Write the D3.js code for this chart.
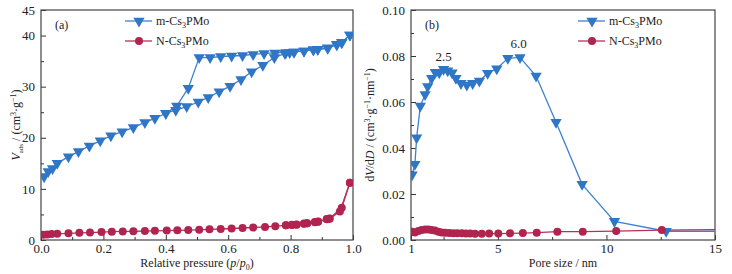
<!DOCTYPE html>
<html>
<head>
<meta charset="utf-8">
<script src="https://cdn.jsdelivr.net/npm/d3@7"></script>
<style>
  body { margin: 0; background: #fff; }
  svg, svg text { font-family: "Liberation Serif", "Times New Roman", Times, "DejaVu Serif", serif; }
</style>
</head>
<body>
<div id="chart"></div>
<script>
const width = 732, height = 274;

// (a) isotherms
const mAdsP = [0.01, 0.023, 0.037, 0.052, 0.088, 0.12, 0.155, 0.19, 0.224, 0.26, 0.296, 0.333, 0.365, 0.40, 0.432, 0.467, 0.504, 0.536, 0.571, 0.606, 0.641, 0.675, 0.711, 0.748, 0.782, 0.797, 0.811, 0.843, 0.873, 0.887, 0.919, 0.948, 0.964, 0.99];
const mAdsV = [12.4, 13.4, 14.0, 15.0, 16.3, 17.3, 18.4, 19.4, 20.4, 21.2, 22.0, 23.0, 23.8, 24.8, 25.4, 26.1, 27.0, 27.9, 29.0, 30.1, 31.4, 32.9, 34.2, 35.7, 36.5, 36.7, 36.8, 37.0, 37.2, 37.3, 37.5, 38.2, 38.6, 40.1];
const mDesP = [0.99, 0.964, 0.948, 0.919, 0.887, 0.873, 0.843, 0.811, 0.785, 0.75, 0.715, 0.68, 0.646, 0.611, 0.576, 0.542, 0.507, 0.472, 0.435, 0.40];
const mDesV = [40.1, 38.7, 38.3, 37.6, 37.3, 37.2, 37.0, 36.8, 36.7, 36.6, 36.5, 36.3, 36.1, 36.0, 35.9, 35.7, 35.7, 29.7, 26.2, 24.8];
const nAdsP = [0.007, 0.02, 0.034, 0.052, 0.088, 0.123, 0.157, 0.194, 0.227, 0.262, 0.296, 0.333, 0.365, 0.403, 0.437, 0.472, 0.507, 0.54, 0.576, 0.611, 0.646, 0.68, 0.718, 0.751, 0.785, 0.804, 0.819, 0.843, 0.853, 0.878, 0.888, 0.916, 0.925, 0.958, 0.99];
const nAdsV = [1.04, 1.1, 1.17, 1.2, 1.3, 1.4, 1.45, 1.55, 1.63, 1.67, 1.7, 1.76, 1.8, 1.85, 1.9, 1.95, 2.0, 2.08, 2.15, 2.25, 2.35, 2.45, 2.54, 2.7, 2.87, 2.95, 3.0, 3.2, 3.3, 3.46, 3.55, 4.05, 4.15, 5.6, 11.2];
const nDesP = [0.99, 0.964, 0.925, 0.916, 0.888, 0.878, 0.853, 0.843, 0.819, 0.804, 0.785];
const nDesV = [11.2, 6.3, 4.2, 4.1, 3.6, 3.5, 3.3, 3.25, 3.05, 3.0, 2.9];

// (b) pore size distribution
const mD = [1.05, 1.18, 1.26, 1.43, 1.65, 1.77, 1.95, 2.12, 2.3, 2.5, 2.69, 2.89, 3.07, 3.3, 3.57, 3.84, 4.15, 4.53, 4.95, 5.46, 6.02, 6.76, 7.68, 8.88, 10.37, 12.75, 17];
const mDV = [0.0284, 0.0329, 0.0445, 0.0583, 0.0633, 0.0667, 0.0703, 0.0729, 0.0727, 0.0742, 0.0736, 0.0727, 0.0703, 0.0681, 0.0674, 0.0681, 0.0691, 0.0725, 0.0745, 0.079, 0.0794, 0.0713, 0.0512, 0.0242, 0.0081, 0.0038, 0.0038];
const nD = [1.06, 1.18, 1.34, 1.49, 1.65, 1.8, 1.95, 2.1, 2.26, 2.41, 2.57, 2.76, 2.95, 3.13, 3.34, 3.53, 3.72, 3.95, 4.26, 4.6, 5.02, 5.56, 6.15, 6.79, 7.74, 8.91, 10.45, 12.55, 17];
const nDV = [0.0036, 0.0033, 0.0039, 0.0043, 0.0046, 0.0046, 0.0043, 0.0041, 0.0036, 0.0033, 0.0032, 0.0030, 0.0029, 0.0029, 0.0029, 0.0028, 0.0028, 0.0027, 0.0027, 0.0028, 0.0028, 0.0029, 0.0030, 0.0032, 0.0036, 0.0036, 0.0039, 0.0043, 0.0047];

const serif = "'Liberation Serif', 'Times New Roman', Times, 'DejaVu Serif', serif";
const blue = "#3d82cf", blueMark = "#2f76c6";
const red = "#b8305a", redMark = "#b0244f";

const svg = d3.select("#chart").append("svg")
  .attr("width", width).attr("height", height)
  .attr("font-family", serif);

const zip = (xs, ys) => xs.map((x, i) => ({ x: x, y: ys[i] }));
const tri = d3.symbol().type(d3.symbolTriangle).size(55);

function panel(opts) {
  const x = d3.scaleLinear().domain(opts.xDomain).range([opts.left, opts.right]);
  const y = d3.scaleLinear().domain(opts.yDomain).range([240, 10]);
  const g = svg.append("g");

  const clipId = "clip" + opts.name;
  svg.append("clipPath").attr("id", clipId)
    .append("rect").attr("x", opts.left).attr("y", 10)
    .attr("width", opts.right - opts.left).attr("height", 230);

  // minor ticks
  g.append("g").attr("transform", "translate(0,240)")
    .call(d3.axisBottom(x).tickValues(opts.xMinor).tickSize(-3).tickFormat(""));
  g.append("g").attr("transform", `translate(${opts.left},0)`)
    .call(d3.axisLeft(y).tickValues(opts.yMinor).tickSize(-3).tickFormat(""));
  // major ticks
  g.append("g").attr("transform", "translate(0,240)")
    .call(d3.axisBottom(x).tickValues(opts.xTicks).tickSize(-5).tickPadding(4).tickFormat(opts.xFmt));
  g.append("g").attr("transform", `translate(${opts.left},0)`)
    .call(d3.axisLeft(y).tickValues(opts.yTicks).tickSize(-5).tickPadding(6).tickFormat(opts.yFmt));
  g.selectAll(".domain").remove();
  g.selectAll("g").attr("font-family", serif);
  g.selectAll(".tick line").attr("stroke", "#333");
  g.selectAll(".tick text").attr("font-size", 13).attr("fill", "#222")
    .style("font-family", serif);

  g.append("rect").attr("x", opts.left).attr("y", 10)
    .attr("width", opts.right - opts.left).attr("height", 230)
    .attr("fill", "none").attr("stroke", "#444").attr("stroke-width", 1.2);

  const line = d3.line().x(d => x(d.x)).y(d => y(d.y));
  const plot = g.append("g").attr("clip-path", `url(#${clipId})`);

  opts.series.forEach(s => {
    plot.append("path").datum(s.data).attr("d", line)
      .attr("fill", "none").attr("stroke", s.color).attr("stroke-width", 1.3);
  });
  opts.series.forEach(s => {
    const pts = plot.append("g").selectAll("g").data(s.data).join("g")
      .attr("transform", d => `translate(${x(d.x)},${y(d.y)})`);
    if (s.shape === "tri") {
      pts.append("path").attr("d", tri).attr("transform", "rotate(180)").attr("fill", s.mark);
    } else {
      pts.append("circle").attr("r", 4).attr("fill", s.mark);
    }
  });

  // legend
  const lg = g.append("g");
  [["m-Cs", "tri", blue, blueMark], ["N-Cs", "circ", red, redMark]].forEach((l, i) => {
    const ly = 21 + i * 20;
    lg.append("line").attr("x1", opts.legX).attr("x2", opts.legX + 27)
      .attr("y1", ly).attr("y2", ly).attr("stroke", l[2]).attr("stroke-width", 1.3);
    const cx = opts.legX + 14;
    if (l[1] === "tri") {
      lg.append("path").attr("d", tri).attr("transform", `translate(${cx},${ly}) rotate(180)`).attr("fill", l[3]);
    } else {
      lg.append("circle").attr("cx", cx).attr("cy", ly).attr("r", 4).attr("fill", l[3]);
    }
    const t = lg.append("text").attr("x", opts.legX + 31).attr("y", ly + 4)
      .attr("font-size", 12).attr("fill", "#222");
    t.append("tspan").text(l[0]);
    t.append("tspan").text("3").attr("font-size", 8).attr("dy", 3);
    t.append("tspan").text("PMo").attr("dy", -3);
  });

  g.append("text").attr("x", opts.left + 14).attr("y", 29)
    .attr("font-size", 12).attr("fill", "#222").text(opts.tag);

  return { x, y, g };
}

const a = panel({
  name: "a", left: 41, right: 353,
  xDomain: [0, 1], yDomain: [0, 45],
  xTicks: [0, 0.2, 0.4, 0.6, 0.8, 1.0], xMinor: [0.1, 0.3, 0.5, 0.7, 0.9],
  yTicks: [0, 10, 20, 30, 40, 45], yMinor: [5, 15, 25, 35],
  xFmt: d3.format(".1f"), yFmt: d3.format("d"),
  legX: 125, tag: "(a)",
  series: [
    { data: zip(mAdsP, mAdsV), color: blue, mark: blueMark, shape: "tri" },
    { data: zip(mDesP, mDesV), color: blue, mark: blueMark, shape: "tri" },
    { data: zip(nAdsP, nAdsV), color: red, mark: redMark, shape: "circ" },
    { data: zip(nDesP, nDesV), color: red, mark: redMark, shape: "circ" }
  ]
});

const b = panel({
  name: "b", left: 411, right: 715,
  xDomain: [1, 15], yDomain: [0, 0.10],
  xTicks: [1, 5, 10, 15], xMinor: [2.5, 7.5, 12.5],
  yTicks: [0, 0.02, 0.04, 0.06, 0.08, 0.10], yMinor: [0.01, 0.03, 0.05, 0.07, 0.09],
  xFmt: d3.format("d"), yFmt: d3.format(".2f"),
  legX: 578, tag: "(b)",
  series: [
    { data: zip(mD, mDV), color: blue, mark: blueMark, shape: "tri" },
    { data: zip(nD, nDV), color: red, mark: redMark, shape: "circ" }
  ]
});

// peak labels
b.g.append("text").attr("x", b.x(2.5)).attr("y", b.y(0.0742) - 8)
  .attr("text-anchor", "middle").attr("font-size", 13).attr("fill", "#222").text("2.5");
b.g.append("text").attr("x", b.x(6.0) - 1).attr("y", b.y(0.0794) - 9)
  .attr("text-anchor", "middle").attr("font-size", 13).attr("fill", "#222").text("6.0");

// axis titles
const xa = svg.append("text").attr("x", 197).attr("y", 267).attr("text-anchor", "middle")
  .attr("font-size", 12).attr("fill", "#222");
xa.append("tspan").text("Relative pressure (");
xa.append("tspan").text("p").attr("font-style", "italic");
xa.append("tspan").text("/");
xa.append("tspan").text("p").attr("font-style", "italic");
xa.append("tspan").text("0").attr("font-size", 8).attr("dy", 3);
xa.append("tspan").text(")").attr("dy", -3);

svg.append("text").attr("x", 563).attr("y", 267).attr("text-anchor", "middle")
  .attr("font-size", 12).attr("fill", "#222").text("Pore size / nm");

const ya = svg.append("text").attr("transform", "translate(20,125) rotate(-90)")
  .attr("text-anchor", "middle").attr("font-size", 12).attr("fill", "#222");
ya.append("tspan").text("V").attr("font-style", "italic");
ya.append("tspan").text("ads").attr("font-size", 7).attr("dy", 3);
ya.append("tspan").text(" / (cm").attr("dy", -3);
ya.append("tspan").text("3").attr("font-size", 8).attr("dy", -4);
ya.append("tspan").text("·g").attr("dy", 4);
ya.append("tspan").text("−1").attr("font-size", 8).attr("dy", -4);
ya.append("tspan").text(")").attr("dy", 4);

const yb = svg.append("text").attr("transform", "translate(374,125) rotate(-90)")
  .attr("text-anchor", "middle").attr("font-size", 12).attr("fill", "#222");
yb.append("tspan").text("d");
yb.append("tspan").text("V").attr("font-style", "italic");
yb.append("tspan").text("/d");
yb.append("tspan").text("D").attr("font-style", "italic");
yb.append("tspan").text(" / (cm");
yb.append("tspan").text("3").attr("font-size", 8).attr("dy", -4);
yb.append("tspan").text("·g").attr("dy", 4);
yb.append("tspan").text("−1").attr("font-size", 8).attr("dy", -4);
yb.append("tspan").text("·nm").attr("dy", 4);
yb.append("tspan").text("−1").attr("font-size", 8).attr("dy", -4);
yb.append("tspan").text(")").attr("dy", 4);
</script>
</body>
</html>
